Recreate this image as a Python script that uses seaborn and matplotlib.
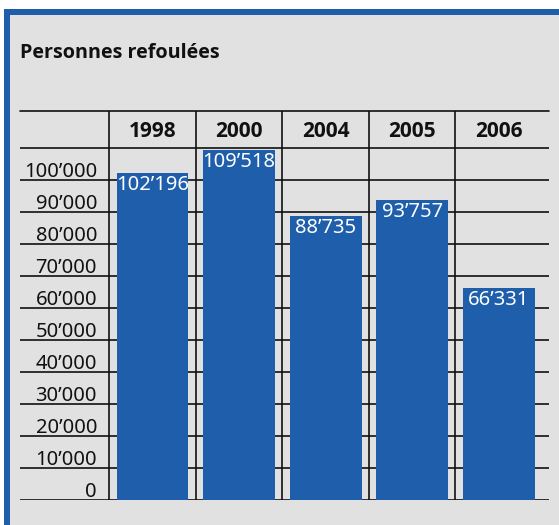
import matplotlib
matplotlib.use("Agg")
import matplotlib.pyplot as plt
from matplotlib.patches import Rectangle
import pandas as pd
import seaborn as sns

# data
years = ["1998", "2000", "2004", "2005", "2006"]
persons = [102196, 109518, 88735, 93757, 66331]
y_ticks = [0, 10000, 20000, 30000, 40000, 50000, 60000, 70000, 80000, 90000, 100000]
title = "Personnes refoulées"

df = pd.DataFrame({"year": years, "persons": persons})

sns.set_style("white")
plt.rcParams["font.family"] = ["Noto Sans", "DejaVu Sans"]
bold_font = ["Open Sans", "DejaVu Sans"]

blue = "#1e5eaa"
grey = "#e1e1e1"
ink = "#111111"
fs = 14.5


def fmt(v):
    return f"{v:,}".replace(",", "\u2019")


W, H = 559, 525
fig = plt.figure(figsize=(W / 100, H / 100), dpi=100, facecolor="white")

# grey panel with blue top/left border
fig.add_artist(Rectangle((4 / W, 0), 1, 1 - 9 / H, transform=fig.transFigure,
                         facecolor=grey, edgecolor="none", zorder=0))
fig.add_artist(Rectangle((4 / W, 0), 6 / W, 1 - 9 / H, transform=fig.transFigure,
                         facecolor=blue, edgecolor="none", zorder=1))
fig.add_artist(Rectangle((4 / W, 1 - 15 / H), 1, 6 / H, transform=fig.transFigure,
                         facecolor=blue, edgecolor="none", zorder=1))

fig.text(20 / W, 1 - 53 / H, title, fontsize=14.2, fontweight="bold",
         family=bold_font, va="center", ha="left", color=ink)

# plot area: x 20..549 px, y 111..500 px
ax = fig.add_axes([20 / W, (H - 500) / H, (549 - 20) / W, (500 - 111) / H])
sns.barplot(data=df, x="year", y="persons", order=years, color=blue,
            width=0.83, saturation=1, linewidth=0, ax=ax, zorder=3)

px = 312.5  # data units per pixel on y
top = (500 - 111) * px
ax.set_ylim(0, top)
ax.set_xlim(-1.53, 4.58)
ax.set_axis_off()

# table lines
for v in y_ticks + [(500 - 148) * px]:
    ax.axhline(v, color=ink, lw=1.2, zorder=1)
ax.axhline(top, color=ink, lw=1.2, zorder=1, clip_on=False)
for i in range(len(years)):
    ax.vlines(i - 0.5, 0, top, color=ink, lw=1.2, zorder=1)

# y labels
for v in y_ticks:
    ax.text(-0.64, v + 3 * px, fmt(v), ha="right", va="baseline",
            fontsize=fs, color=ink)

# header
for i, yr in enumerate(years):
    ax.text(i, (500 - 131) * px, yr, ha="center", va="center",
            fontsize=15, fontweight="bold", family=bold_font, color=ink)

# bar labels
for i, v in enumerate(persons):
    ax.text(i, v - 2 * px, fmt(v), ha="center", va="top",
            fontsize=fs, color="white", zorder=4)

fig.savefig("out.png", dpi=100, facecolor="white")
